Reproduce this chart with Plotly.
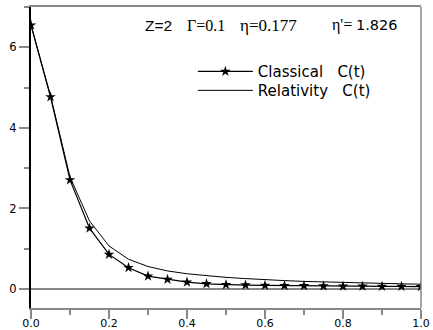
import plotly.graph_objects as go

t = [0.0, 0.05, 0.1, 0.15, 0.2, 0.25, 0.3, 0.35, 0.4, 0.45, 0.5,
     0.55, 0.6, 0.65, 0.7, 0.75, 0.8, 0.85, 0.9, 0.95, 1.0]
classical = [6.55, 4.77, 2.71, 1.51, 0.86, 0.53, 0.32, 0.24, 0.17, 0.13, 0.11,
             0.10, 0.09, 0.085, 0.08, 0.075, 0.07, 0.07, 0.065, 0.065, 0.06]
relativity = [6.55, 4.80, 2.78, 1.69, 1.07, 0.74, 0.56, 0.45, 0.38, 0.33, 0.29,
              0.26, 0.23, 0.21, 0.19, 0.175, 0.16, 0.15, 0.14, 0.13, 0.12]

x_ticks = [0.0, 0.2, 0.4, 0.6, 0.8, 1.0]
x_labels = ["0.0", "0.2", "0.4", "0.6", "0.8", "1.0"]
y_ticks = [0, 2, 4, 6]
y_labels = ["0", "2", "4", "6"]

fig = go.Figure()
fig.add_trace(go.Scatter(
    x=t, y=classical, mode="lines+markers",
    name="Classical\u00a0\u00a0\u00a0C(t)", legend="legend",
    line=dict(color="black", width=1.2),
    marker=dict(symbol="star", size=8, color="black"),
))
fig.add_trace(go.Scatter(
    x=t, y=relativity, mode="lines",
    name="Relativity\u00a0\u00a0\u00a0C(t)", legend="legend2",
    line=dict(color="black", width=1.0),
))

gray = "#888888"
serif = "Liberation Serif, Times New Roman"
sans = "DejaVu Sans"


def ann(px, text, family, size):
    return dict(xref="paper", yref="paper", x=(px - 31) / 390, y=0.94,
                xanchor="left", yanchor="middle", showarrow=False,
                text=text, font=dict(family=family, size=size, color="black"))


def leg(ypaper):
    return dict(x=0.415, y=ypaper, xanchor="left", yanchor="top",
                bgcolor="rgba(0,0,0,0)", font=dict(family=sans, size=15),
                itemwidth=55)


fig.update_layout(
    width=433, height=330,
    margin=dict(l=31, r=12, t=7, b=22, autoexpand=False),
    paper_bgcolor="white", plot_bgcolor="white",
    font=dict(family=sans, size=11, color="black"),
    showlegend=True,
    legend=leg(0.84),
    legend2=leg(0.777),
    xaxis=dict(range=[0, 1.0], tickvals=x_ticks, ticktext=x_labels,
               ticks="outside", ticklen=9, tickcolor=gray, tickwidth=1.5,
               showgrid=False, zeroline=False, showline=True,
               linecolor=gray, linewidth=1.5, mirror=True, automargin=False,
               ticklabelstandoff=-5,
               minor=dict(dtick=0.1, ticks="outside", ticklen=5,
                          tickcolor=gray, tickwidth=1.5, showgrid=False),
               tickfont=dict(family=sans, size=11)),
    yaxis=dict(range=[-0.47, 7.0], tickvals=y_ticks, ticktext=y_labels,
               ticks="outside", ticklen=10, tickcolor=gray, tickwidth=1.5,
               showgrid=False, zeroline=True, zerolinecolor=gray,
               zerolinewidth=1.5, showline=True, linecolor="black",
               linewidth=2, automargin=False,
               minor=dict(dtick=1, ticks="outside", ticklen=5,
                          tickcolor=gray, tickwidth=1.5, showgrid=False),
               tickfont=dict(family=sans, size=11.5)),
    shapes=[dict(type="line", xref="paper", yref="paper", x0=1, x1=1,
                 y0=0, y1=1, line=dict(color=gray, width=1.5))],
    annotations=[
        ann(143, "Z=2", "Liberation Sans, Arial", 15.5),
        ann(185, "Γ=0.1", serif, 16),
        ann(238, "η=0.177", serif, 17),
        ann(330, "η'=", serif, 16),
        ann(354, "1.826", sans, 14.5),
    ],
)

fig.write_html(
    "out.html",
    config={"displayModeBar": False},
    post_script="document.body.style.margin='0';"
                "document.body.style.overflow='hidden';",
)
